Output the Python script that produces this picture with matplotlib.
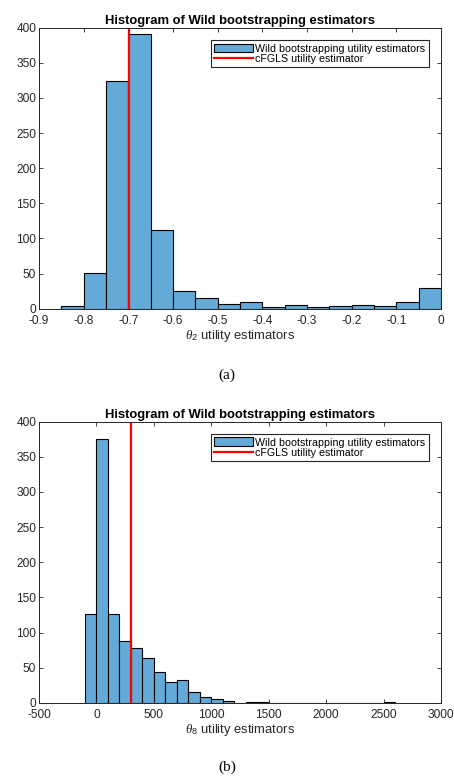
import numpy as np
import matplotlib.pyplot as plt

plt.rcParams['font.family'] = ['Liberation Sans', 'DejaVu Sans']
plt.rcParams['mathtext.fontset'] = 'custom'
plt.rcParams['mathtext.it'] = 'Liberation Serif:italic'
plt.rcParams['mathtext.rm'] = 'Liberation Sans'

# (a) theta_2 bootstrap histogram, bin width 0.05
edges_a = np.arange(-0.85, 0.0001, 0.05)
counts_a = [4, 51, 324, 391, 112, 25, 15, 7, 10, 2, 5, 3, 4, 5, 4, 9, 29]
cfgls_a = -0.699

# (b) theta_8 bootstrap histogram, bin width 100
edges_b = np.arange(-100, 2601, 100)
counts_b = [126, 376, 127, 88, 78, 64, 44, 30, 33, 15, 8, 5, 3, 0, 1, 1,
            0, 0, 0, 0, 0, 0, 0, 0, 0, 0, 1]
cfgls_b = 298

face = (0.39, 0.667, 0.847)

def draw_panel(ax, edges, counts, cfgls, xlim, xticks, xlabel):
    w = edges[1] - edges[0]
    h = ax.bar(edges[:-1], counts, width=w, align='edge', color=face,
               edgecolor='black', linewidth=0.8,
               label='Wild bootstrapping utility estimators')
    ln = ax.axvline(cfgls, color='#ff0000', lw=1.6,
                    label='cFGLS utility estimator')
    ax.set_xlim(xlim)
    ax.set_ylim(0, 400)
    ax.set_xticks(xticks)
    ax.set_yticks(np.arange(0, 401, 50))
    ax.tick_params(direction='in', top=True, right=True, length=3,
                   width=0.6, labelsize=8.6, colors='#262626')
    ax.tick_params(axis='x', pad=4.6)
    ax.tick_params(axis='y', pad=2)
    for s in ax.spines.values():
        s.set_linewidth(0.7)
        s.set_color('#262626')
    ax.set_title('Histogram of Wild bootstrapping estimators',
                 fontsize=9.4, fontweight='bold', pad=3)
    ax.set_xlabel(xlabel, fontsize=9.4, labelpad=0.5, color='#262626')
    leg = ax.legend(handles=[h, ln], loc='upper right',
                    bbox_to_anchor=(0.970, 0.956), borderaxespad=0,
                    fontsize=7.7, fancybox=False, framealpha=1,
                    edgecolor='#262626', handlelength=3.6,
                    handleheight=0.9, handletextpad=0.25,
                    labelspacing=0.02, borderpad=0.32)
    leg.get_frame().set_linewidth(0.8)

fig = plt.figure(figsize=(4.54, 7.79), dpi=100)
ax1 = fig.add_axes([0.0859, 0.6037, 0.8855, 0.3607])
ax2 = fig.add_axes([0.0859, 0.0976, 0.8855, 0.3611])

draw_panel(ax1, edges_a, counts_a, cfgls_a, (-0.9, 0),
           np.round(np.arange(-0.9, 0.001, 0.1), 1),
           r'$\theta_2$ utility estimators')
ax1.set_xticklabels(['-0.9', '-0.8', '-0.7', '-0.6', '-0.5', '-0.4',
                     '-0.3', '-0.2', '-0.1', '0'])
draw_panel(ax2, edges_b, counts_b, cfgls_b, (-500, 3000),
           np.arange(-500, 3001, 500), r'$\theta_8$ utility estimators')
ax2.set_xticklabels([str(v) for v in range(-500, 3001, 500)])

fig.text(0.5, 1 - 375 / 779, '(a)', ha='center', va='center',
         fontsize=11, family='Liberation Serif')
fig.text(0.5, 1 - 767 / 779, '(b)', ha='center', va='center',
         fontsize=11, family='Liberation Serif')

fig.savefig('out.png', dpi=100)
